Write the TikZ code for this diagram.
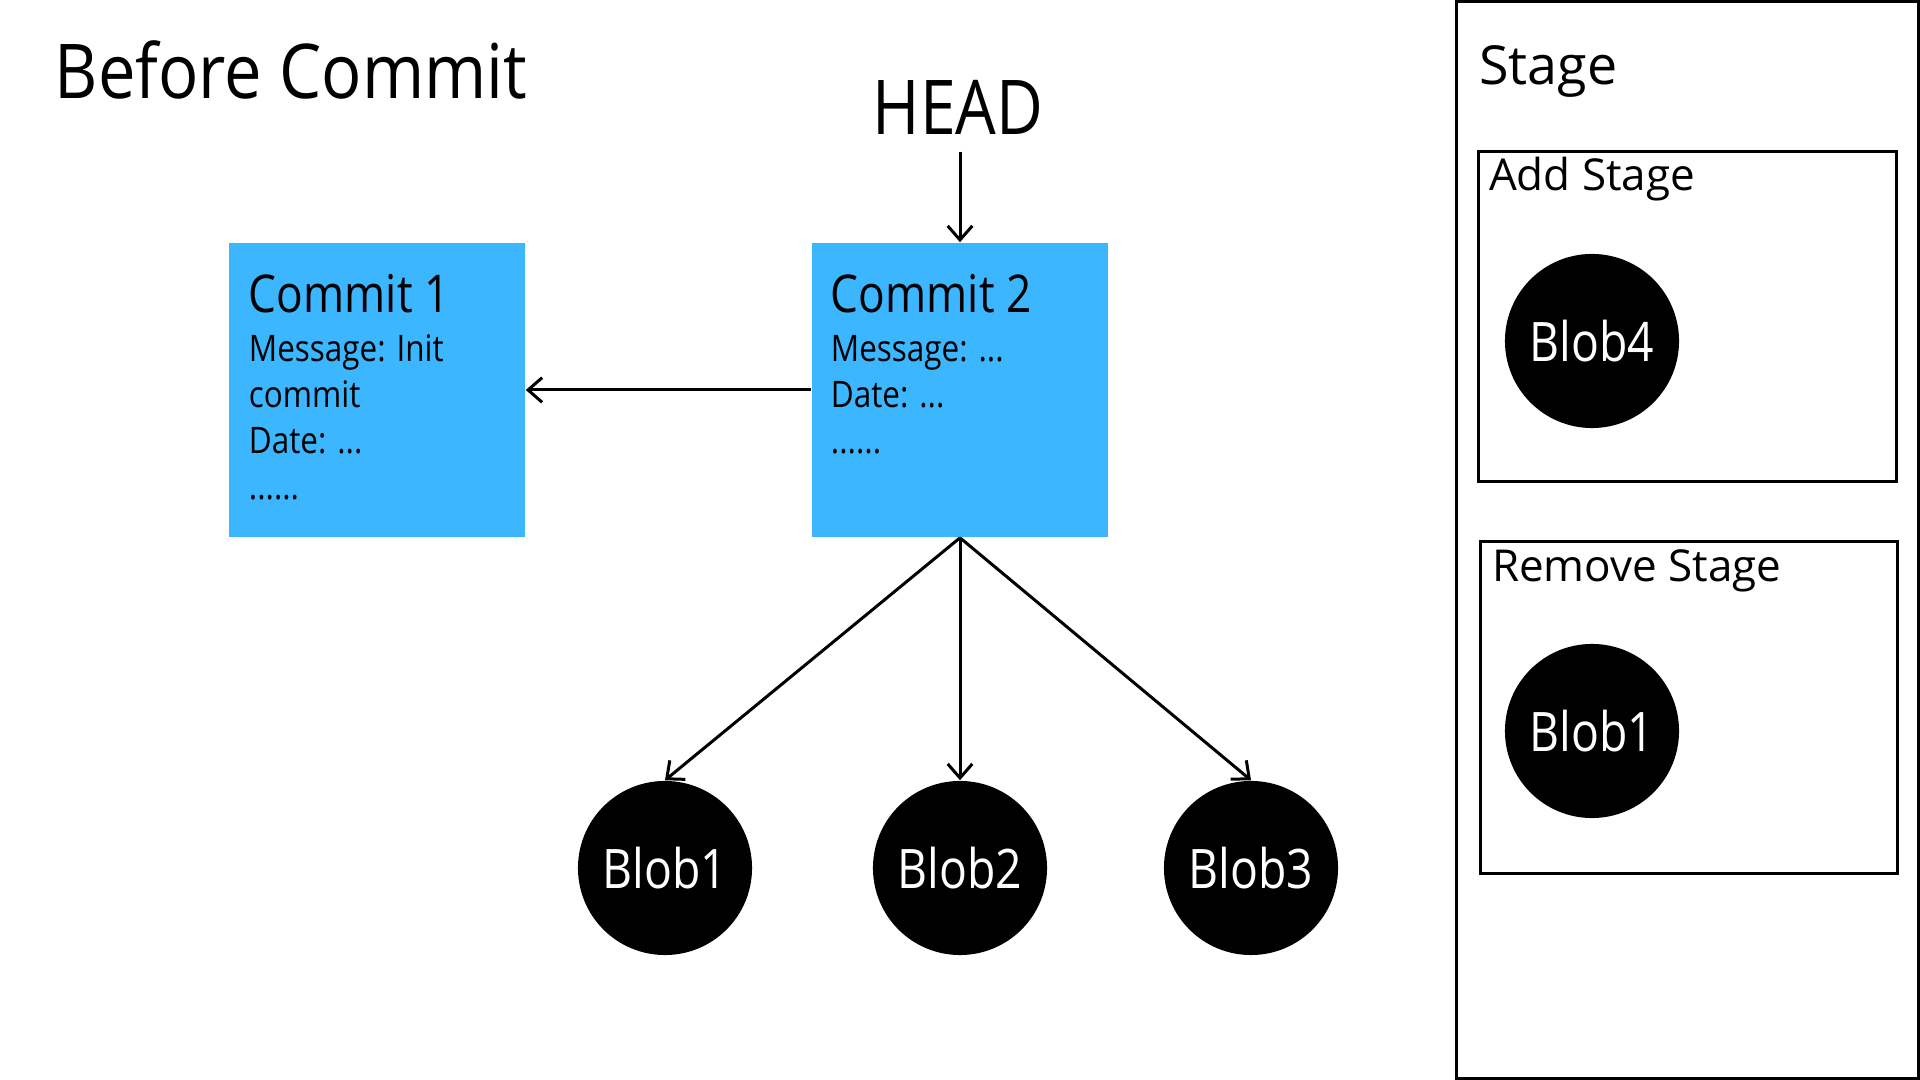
\documentclass[tikz,border=0pt]{standalone}
\usepackage{fontspec}
\setmainfont{Open Sans}
\usepackage{graphicx}
\usetikzlibrary{arrows.meta,positioning}
\definecolor{commitblue}{RGB}{59,182,255}
\newcommand{\slim}[2][0.85]{\scalebox{#1}[1]{#2}}
\tikzstyle{commitbox} = [fill=commitblue,rectangle,inner sep=0pt,
  minimum width=2.96cm,minimum height=2.94cm]
\tikzstyle{blob} = [fill=black,circle,inner sep=0pt,minimum size=1.74cm,
  text=white,font=\fontsize{15.5}{18}\selectfont]
\tikzstyle{stagebox} = [draw=black,line width=0.85pt,rectangle,inner sep=0pt]
\tikzstyle{link} = [line width=0.85pt,-{Straight Barb[length=4pt,width=7pt]}]
\tikzstyle{bigtitle} = [font=\fontsize{21.5}{26}\selectfont,inner sep=0pt,anchor=base west]
\tikzstyle{committitle} = [font=\fontsize{14.8}{18}\selectfont,inner sep=0pt,anchor=base west]
\tikzstyle{committext} = [font=\fontsize{10.4}{13}\selectfont,inner sep=0pt,anchor=base west]
\tikzstyle{stagetitle} = [font=\fontsize{12.5}{15}\selectfont,inner sep=0pt,anchor=base west]

\begin{document}
\begin{tikzpicture}[x=0.01cm,y=-0.01cm]
    \useasboundingbox (0,0) rectangle (1920,1080);
    \node [bigtitle] (title) at (54,99) {\slim[0.885]{Before Commit}};
    % commits
    \node [commitbox] (c1) at (377,390) {};
    \node [commitbox] (c2) at (960,390) {};
    \node [committitle] (c1t) at ([shift={(20,70)}]c1.north west) {\slim{Commit 1}};
    \node [committext] (c1m) at ([shift={(20,119)}]c1.north west) {\slim[0.86]{Message: Init}};
    \node [committext] (c1n) at ([shift={(20,165)}]c1.north west) {\slim[0.86]{commit}};
    \node [committext] (c1d) at ([shift={(20,211)}]c1.north west) {\slim[0.86]{Date: ...}};
    \node [committext] (c1e) at ([shift={(20,257)}]c1.north west) {\slim[0.86]{......}};
    \node [committitle] (c2t) at ([shift={(19,70)}]c2.north west) {\slim{Commit 2}};
    \node [committext] (c2m) at ([shift={(19,119)}]c2.north west) {\slim[0.86]{Message: ...}};
    \node [committext] (c2d) at ([shift={(19,165)}]c2.north west) {\slim[0.86]{Date: ...}};
    \node [committext] (c2e) at ([shift={(19,211)}]c2.north west) {\slim[0.86]{......}};
    \node [bigtitle, anchor=base] (head) at (958,135) {\slim{HEAD}};
    % blobs
    \node [blob] (b1) at (665,868) {\slim{Blob1}};
    \node [blob] (b2) at (960,868) {\slim{Blob2}};
    \node [blob] (b3) at (1251,868) {\slim{Blob3}};
    \draw [link, shorten <=0.16cm] (head.south -| c2.north) -- (c2.north);
    \draw [link] (c2) -- (c1);
    \draw [link] (c2.south) -- (b1.north);
    \draw [link] (c2.south) -- (b2.north);
    \draw [link] (c2.south) -- (b3.north);
    % stage area
    \node [stagebox, minimum width=4.61cm, minimum height=10.76cm] (stage) at (1687.5,540) {};
    \node [stagebox, minimum width=4.17cm, minimum height=3.30cm] (add) at (1687.5,316.75) {};
    \node [stagebox, minimum width=4.16cm, minimum height=3.31cm] (rm) at (1689,707.5) {};
    \node [stagetitle, font=\fontsize{15.3}{18}\selectfont] (st) at ([shift={(23,84)}]stage.north west) {Stage};
    \node [stagetitle] (addt) at ([shift={(11,40)}]add.north west) {Add Stage};
    \node [stagetitle] (rmt) at ([shift={(12,41)}]rm.north west) {Remove Stage};
    \node [blob] (b4) at (1592,341) {\slim{Blob4}};
    \node [blob] (rb1) at (1592,731) {\slim{Blob1}};
\end{tikzpicture}
\end{document}
